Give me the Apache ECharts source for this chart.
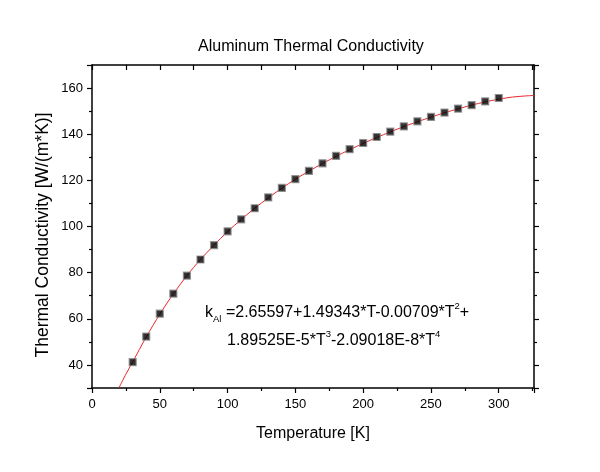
<!DOCTYPE html>
<html>
<head>
<meta charset="utf-8">
<script src="https://cdn.jsdelivr.net/npm/echarts@6/dist/echarts.min.js"></script>
<style>
  html, body { margin: 0; padding: 0; background: #fff; }
  #chart { width: 600px; height: 472px; }
</style>
</head>
<body>
<div id="chart"></div>
<script>
// measured points (temperature K, conductivity W/(m*K))
const temps = [30, 40, 50, 60, 70, 80, 90, 100, 110, 120, 130, 140, 150, 160, 170,
  180, 190, 200, 210, 220, 230, 240, 250, 260, 270, 280, 290, 300];
const kValues = [41.2, 52.3, 62.2, 70.9, 78.7, 85.7, 91.9, 97.9, 103.1, 107.9, 112.6, 116.7, 120.5, 124.1, 127.4,
  130.6, 133.5, 136.2, 138.8, 141.1, 143.4, 145.6, 147.5, 149.4, 151.1, 152.6, 154.2, 155.7];

// red fit curve
const fitTemps = [20, 25, 30, 40, 50, 60, 70, 80, 90, 100, 110, 120, 130, 140, 150, 160, 170,
  180, 190, 200, 210, 220, 230, 240, 250, 260, 270, 280, 290, 300, 310, 320, 326];
const fitValues = [30.2, 36.0, 41.3, 52.1, 62.0, 70.8, 78.7, 85.7, 91.9, 97.8, 103.0, 107.9, 112.4, 116.6, 120.5, 124.0, 127.3,
  130.4, 133.3, 136.0, 138.6, 141.0, 143.3, 145.4, 147.4, 149.3, 151.0, 152.6, 154.0, 155.2, 156.1, 156.6, 156.8];

const font = 'Liberation Sans, Arial, sans-serif';

const chart = echarts.init(document.getElementById('chart'));

const zip = (xs, ys) => xs.map((x, i) => [x, ys[i]]);

// ticks point outward on bottom/left/right, inward on the top axis
const axisStyle = (inside, minor) => ({
  axisLine: { show: true, onZero: false, lineStyle: { color: '#000', width: 1.5 } },
  axisTick: { show: true, inside: inside, length: 5, lineStyle: { color: '#000', width: 1.2 } },
  minorTick: { show: minor, splitNumber: 2, length: 3, lineStyle: { color: '#000', width: 1.2 } },
  splitLine: { show: false },
  minorSplitLine: { show: false }
});

chart.setOption({
  backgroundColor: '#fff',
  animation: false,
  title: {
    text: 'Aluminum Thermal Conductivity',
    left: 193, top: 34,
    textStyle: { fontFamily: font, fontSize: 16, fontWeight: 'normal', color: '#000' }
  },
  grid: { left: 92, right: 66, top: 65, bottom: 84 },
  xAxis: [
    Object.assign(axisStyle(false, true), {
      type: 'value', min: 0, max: 326, interval: 50,
      name: 'Temperature [K]', nameLocation: 'middle', nameGap: 38,
      nameTextStyle: { fontFamily: font, fontSize: 16, color: '#000' },
      axisLabel: { show: true, showMaxLabel: false, fontFamily: font, fontSize: 13, color: '#000', margin: 10 }
    }),
    Object.assign(axisStyle(true, false), {
      type: 'value', min: 0, max: 326, interval: 25, position: 'top',
      axisLabel: { show: false }
    })
  ],
  yAxis: [
    Object.assign(axisStyle(false, true), {
      type: 'value', min: 30, max: 170, splitNumber: 7,
      axisLabel: {
        show: true, fontFamily: font, fontSize: 13, color: '#000', margin: 9,
        formatter: v => (v % 20 === 0 ? String(v) : '')
      }
    }),
    Object.assign(axisStyle(false, true), {
      type: 'value', min: 30, max: 170, splitNumber: 7, position: 'right',
      axisLabel: { show: false }
    })
  ],
  series: [
    {
      name: 'fit',
      type: 'line',
      data: zip(fitTemps, fitValues),
      smooth: 0.3,
      showSymbol: false,
      lineStyle: { color: '#e8262b', width: 1 },
      z: 2
    },
    {
      name: 'data',
      type: 'scatter',
      data: zip(temps, kValues),
      symbol: 'rect',
      symbolSize: 7,
      itemStyle: { color: '#000', borderColor: '#8a8a8a', borderWidth: 1.2 },
      z: 3
    }
  ],
  graphic: [
    {
      type: 'text', x: 43, y: 235, rotation: Math.PI / 2,
      style: {
        text: 'Thermal Conductivity [W/(m*K)]',
        fontFamily: font, fontSize: 17.5, fill: '#000',
        align: 'center', verticalAlign: 'middle'
      }
    },
    {
      type: 'text', left: 205, top: 301,
      style: {
        text: '{b|k}{sub|Al}{b| =2.65597+1.49343*T-0.00709*T}{sup|2}{b|+}',
        rich: {
          b: { fontFamily: font, fontSize: 16, color: '#000', lineHeight: 23, verticalAlign: 'middle' },
          sub: { fontFamily: font, fontSize: 9.5, color: '#000', verticalAlign: 'bottom', lineHeight: 10 },
          sup: { fontFamily: font, fontSize: 9.5, color: '#000', verticalAlign: 'top', lineHeight: 10 }
        }
      }
    },
    {
      type: 'text', left: 227, top: 329,
      style: {
        text: '{b|1.89525E-5*T}{sup|3}{b|-2.09018E-8*T}{sup|4}',
        rich: {
          b: { fontFamily: font, fontSize: 16, color: '#000', lineHeight: 23, verticalAlign: 'middle' },
          sup: { fontFamily: font, fontSize: 9.5, color: '#000', verticalAlign: 'top', lineHeight: 10 }
        }
      }
    }
  ]
});
</script>
</body>
</html>
